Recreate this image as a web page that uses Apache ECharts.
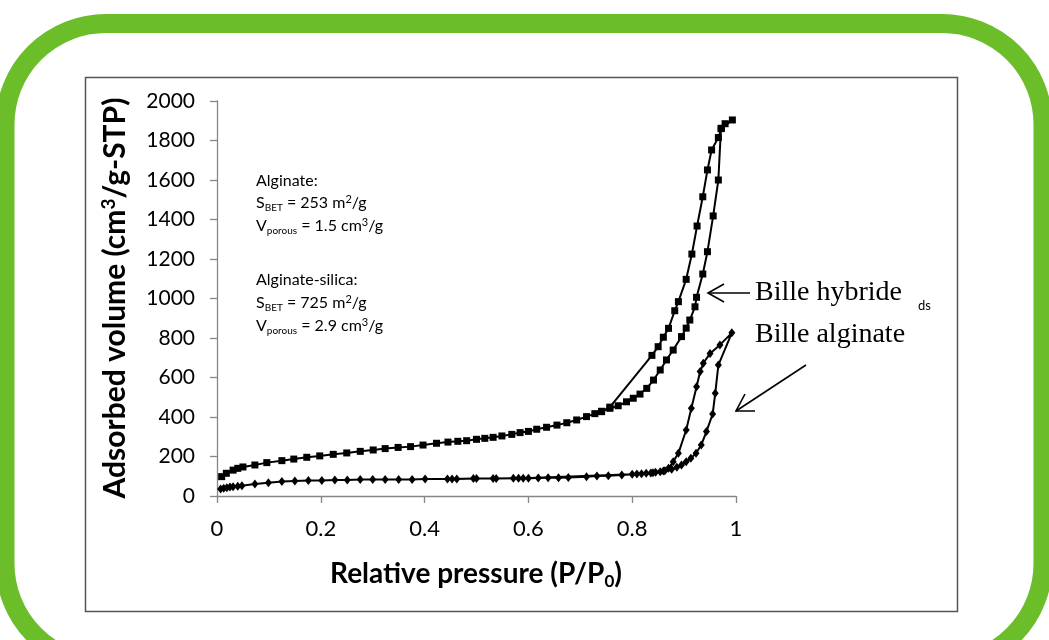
<!DOCTYPE html>
<html>
<head>
<meta charset="utf-8">
<script src="https://cdn.jsdelivr.net/npm/echarts@6/dist/echarts.min.js"></script>
<style>
    html, body { margin: 0; padding: 0; background: #fff; }
    #chart { width: 1049px; height: 640px; }
</style>
</head>
<body>
<div id="chart"></div>
<script>
// 轴刻度
const xTicks = [0, 0.2, 0.4, 0.6, 0.8, 1];
const yTicks = [0, 200, 400, 600, 800, 1000, 1200, 1400, 1600, 1800, 2000];

// Bille hybride - adsorption branch [P/P0, volume]
const hybridAds = [
    [0.009, 98], [0.018, 115], [0.031, 131], [0.040, 140], [0.050, 147], [0.073, 157],
    [0.096, 169], [0.125, 179], [0.148, 187], [0.173, 196], [0.198, 203], [0.224, 211],
    [0.250, 218], [0.276, 226], [0.301, 233], [0.324, 240], [0.349, 246], [0.373, 250],
    [0.397, 258], [0.423, 267], [0.445, 273], [0.464, 277], [0.481, 280], [0.500, 287],
    [0.516, 292], [0.532, 297], [0.549, 304], [0.568, 312], [0.584, 321], [0.600, 327],
    [0.616, 338], [0.635, 348], [0.655, 359], [0.674, 371], [0.693, 385], [0.712, 402],
    [0.728, 417], [0.741, 427], [0.757, 444], [0.773, 457], [0.789, 477], [0.802, 495],
    [0.815, 516], [0.828, 545], [0.841, 587], [0.854, 638], [0.866, 689], [0.879, 739],
    [0.895, 807], [0.904, 850], [0.911, 891], [0.921, 958], [0.924, 1006], [0.936, 1124],
    [0.945, 1237], [0.956, 1418], [0.966, 1600], [0.971, 1860], [0.993, 1904]
];

// Bille hybride - desorption branch
const hybridDes = [
    [0.993, 1904], [0.979, 1885], [0.972, 1862], [0.966, 1815], [0.953, 1752],
    [0.945, 1651], [0.936, 1515], [0.925, 1367], [0.915, 1225], [0.904, 1097],
    [0.889, 984], [0.882, 938], [0.870, 849], [0.860, 804], [0.850, 756], [0.838, 712],
    [0.757, 450], [0.741, 429]
];

// Bille alginate - adsorption branch
const alginateAds = [
    [0.007, 35], [0.013, 39], [0.019, 42], [0.025, 45], [0.031, 47], [0.040, 50], [0.048, 52],
    [0.073, 61], [0.099, 67], [0.125, 73], [0.150, 76], [0.176, 78], [0.202, 79],
    [0.227, 81], [0.251, 81], [0.276, 83], [0.300, 83], [0.324, 84], [0.350, 84],
    [0.376, 84], [0.401, 86], [0.444, 86], [0.462, 86], [0.500, 88], [0.538, 88],
    [0.581, 90], [0.600, 90], [0.619, 91], [0.638, 92], [0.658, 93], [0.677, 94],
    [0.712, 98], [0.732, 101], [0.754, 103], [0.780, 106], [0.809, 111], [0.818, 113],
    [0.827, 115], [0.836, 117], [0.845, 120], [0.854, 123], [0.863, 128], [0.876, 135],
    [0.886, 145], [0.895, 157], [0.904, 174], [0.913, 191], [0.923, 216], [0.933, 258],
    [0.943, 326], [0.955, 415], [0.960, 520], [0.966, 663], [0.992, 826]
];

// Bille alginate - desorption branch
const alginateDes = [
    [0.992, 826], [0.969, 765], [0.950, 722], [0.937, 672], [0.931, 630], [0.924, 553],
    [0.914, 444], [0.904, 334], [0.889, 216], [0.879, 174], [0.870, 140], [0.860, 126],
    [0.840, 118], [0.800, 110], [0.590, 90], [0.571, 90], [0.532, 88], [0.494, 88],
    [0.453, 86]
];

const hybridLoop = hybridAds.concat(hybridDes.slice(1));
const alginateLoop = alginateAds.concat(alginateDes.slice(1));

const sans = 'Lato, "Open Sans", sans-serif';
const serif = '"Liberation Serif", "DejaVu Serif", serif';
const axisGray = '#868686';

// 注释里的上下标
const noteRich = {
    sub: { fontSize: 10, fontFamily: sans, color: '#000', padding: [10, 0, 0, 0] },
    sup: { fontSize: 11, fontFamily: sans, color: '#000', padding: [0, 0, 7, 0] }
};

function note(text, x, y) {
    return {
        type: 'text', x: x, y: y,
        style: {
            text: text, fontFamily: sans, fontSize: 16, fill: '#000',
            align: 'left', verticalAlign: 'middle', rich: noteRich
        }
    };
}

const chart = echarts.init(document.getElementById('chart'));

chart.setOption({
    animation: false,
    backgroundColor: '#fff',
    grid: { left: 217, top: 101, width: 519, height: 395, containLabel: false },
    xAxis: {
        type: 'value', min: xTicks[0], max: xTicks[xTicks.length - 1], interval: 0.2,
        axisLine: { show: true, lineStyle: { color: axisGray, width: 1.3 } },
        axisTick: { show: true, length: 7, lineStyle: { color: axisGray, width: 1.3 } },
        splitLine: { show: false },
        axisLabel: { color: '#000', fontSize: 22, fontFamily: sans, margin: 22, formatter: v => String(v) }
    },
    yAxis: {
        type: 'value', min: yTicks[0], max: yTicks[yTicks.length - 1], interval: 200,
        axisLine: { show: true, lineStyle: { color: axisGray, width: 1.3 } },
        axisTick: { show: true, length: 7, lineStyle: { color: axisGray, width: 1.3 } },
        splitLine: { show: false },
        axisLabel: { color: '#000', fontSize: 21, fontFamily: sans, margin: 22, formatter: v => String(v) }
    },
    series: [
        {
            name: 'Bille hybride', type: 'line', data: hybridLoop,
            symbol: 'rect', symbolSize: 7, showAllSymbol: true,
            lineStyle: { color: '#000', width: 2 },
            itemStyle: { color: '#000' }
        },
        {
            name: 'Bille alginate', type: 'line', data: alginateLoop,
            symbol: 'diamond', symbolSize: [7, 9], showAllSymbol: true,
            lineStyle: { color: '#000', width: 2 },
            itemStyle: { color: '#000' }
        }
    ],
    graphic: [
        // 绿色圆角外框
        {
            type: 'rect', silent: true,
            shape: { x: 5, y: 23.5, width: 1038, height: 641, r: 101 },
            style: { fill: null, stroke: '#6bbd29', lineWidth: 19 }
        },
        // 图表边框
        {
            type: 'rect', silent: true,
            shape: { x: 85.5, y: 77.5, width: 872, height: 534 },
            style: { fill: null, stroke: '#555', lineWidth: 1.5 }
        },
        // 轴标题
        {
            type: 'text', x: 115, y: 298, rotation: Math.PI / 2,
            style: {
                text: 'Adsorbed volume (cm{sup|3}/g-STP)', fontFamily: sans, fontWeight: 'bold',
                fontSize: 30, fill: '#000', align: 'center', verticalAlign: 'middle',
                rich: { sup: { fontSize: 19, fontWeight: 'bold', fontFamily: sans, padding: [0, 0, 12, 0] } }
            }
        },
        {
            type: 'text', x: 476, y: 574,
            style: {
                text: 'Relative pressure (P/P{s|0})', fontFamily: sans, fontWeight: 'bold',
                fontSize: 28, fill: '#000', align: 'center', verticalAlign: 'middle',
                rich: { s: { fontSize: 17, fontWeight: 'bold', fontFamily: sans, padding: [16, 0, 0, 0] } }
            }
        },
        // 比表面积注释
        note('Alginate:', 256, 181),
        note('S{sub|BET} = 253 m{sup|2}/g', 256, 203),
        note('V{sub|porous} = 1.5 cm{sup|3}/g', 256, 226),
        note('Alginate-silica:', 256, 280),
        note('S{sub|BET} = 725 m{sup|2}/g', 256, 303),
        note('V{sub|porous} = 2.9 cm{sup|3}/g', 256, 326),
        // 曲线标签
        {
            type: 'text', x: 755, y: 293,
            style: { text: 'Bille hybride', fontFamily: serif, fontSize: 28, fill: '#000', align: 'left', verticalAlign: 'middle' }
        },
        {
            type: 'text', x: 918, y: 306,
            style: { text: 'ds', fontFamily: sans, fontSize: 13, fill: '#000', align: 'left', verticalAlign: 'middle' }
        },
        {
            type: 'text', x: 755, y: 335,
            style: { text: 'Bille alginate', fontFamily: serif, fontSize: 28, fill: '#000', align: 'left', verticalAlign: 'middle' }
        },
        // 箭头
        {
            type: 'polyline', silent: true,
            shape: { points: [[750, 293], [708, 293]] },
            style: { stroke: '#000', lineWidth: 1.6, fill: null }
        },
        {
            type: 'polyline', silent: true,
            shape: { points: [[724, 284], [708, 293], [724, 302]] },
            style: { stroke: '#000', lineWidth: 1.6, fill: null }
        },
        {
            type: 'polyline', silent: true,
            shape: { points: [[806, 365], [736, 411]] },
            style: { stroke: '#000', lineWidth: 1.6, fill: null }
        },
        {
            type: 'polyline', silent: true,
            shape: { points: [[745, 394], [736, 411], [755, 411]] },
            style: { stroke: '#000', lineWidth: 1.6, fill: null }
        }
    ]
});

window.addEventListener('resize', function () {
    chart.resize();
});
</script>
</body>
</html>
